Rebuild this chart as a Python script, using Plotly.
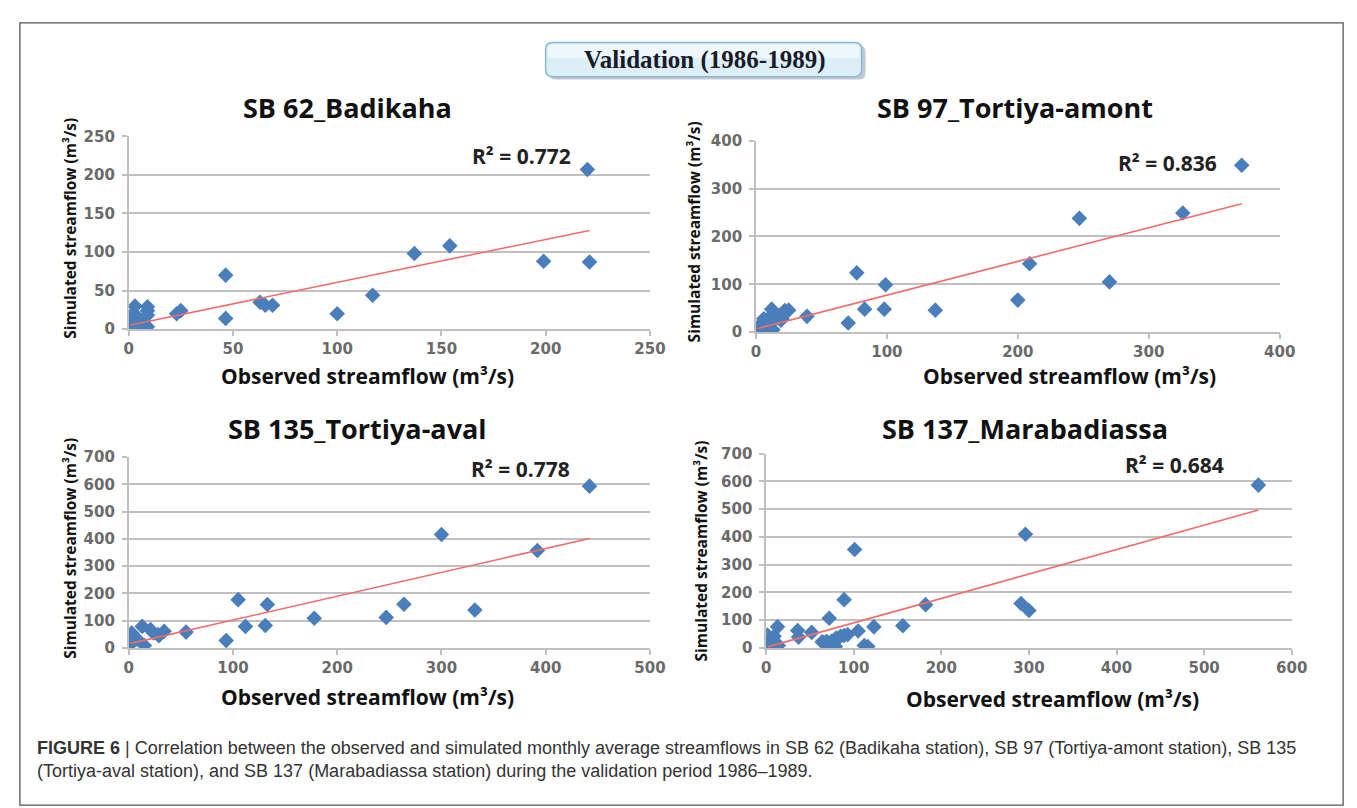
import plotly.graph_objects as go

W, H = 1357, 808

# ---------------- data ----------------
panel_titles = ["SB 62_Badikaha", "SB 97_Tortiya-amont", "SB 135_Tortiya-aval", "SB 137_Marabadiassa"]
r2_labels = ["R² = 0.772", "R² = 0.836", "R² = 0.778", "R² = 0.684"]

sb62_obs = [220, 221, 199, 154, 137, 117, 100, 46.5, 46.5, 63, 65.5, 69, 23, 25,
            1, 2, 0.5, 1.5, 3, 4, 5, 6, 9, 9, 9, 9, 3, 2, 7]
sb62_sim = [207, 87, 88, 108, 98, 44, 20, 70, 14, 35, 31, 31, 20, 24,
            17, 14, 2, 0, 30, 8, 12, 5, 29, 24, 18, 3, 19, 6, 10]
sb62_trend_obs = [1, 221]
sb62_trend_sim = [5.5, 128]

sb97_obs = [371, 326, 247, 209, 270, 200, 137, 99, 98, 83, 77, 70.5, 39, 25,
            2, 3, 5, 6, 8, 10, 12, 14, 16, 18, 20, 22, 4, 7, 13, 10, 1, 19]
sb97_sim = [349, 249, 238, 143, 105, 67, 46, 99, 48, 48, 124, 19, 33, 46,
            5, 12, 20, 28, 25, 15, 48, 40, 30, 35, 28, 45, 2, 8, 5, 22, 0, 25]
sb97_trend_obs = [1.3, 371]
sb97_trend_sim = [7.5, 268.5]

sb135_obs = [442, 300, 392, 332, 264, 247, 178, 133, 131, 105, 112, 93.5, 55, 34,
             13, 21, 24, 29, 2.4, 0.8, 15, 5.5, 8, 0, 2.4, 3, 6, 28]
sb135_sim = [593, 416, 357, 139, 160, 112, 109, 159, 82, 177, 79, 27, 58, 61,
             79, 67, 55, 45, 49, 19, 9, 37, 33, 7, 27, 55, 31, 49]
sb135_trend_obs = [2, 442]
sb135_trend_sim = [16.7, 401]

sb137_obs = [562, 296, 291, 300, 182, 156, 123, 105, 101, 89, 72, 89, 93, 112, 116, 79,
             65, 70, 75, 80, 85, 52, 36, 37, 13, 1.5, 6, 11, 2.5, 14, 9, 64, 69, 4]
sb137_sim = [587, 410, 160, 135, 156, 80, 76, 61, 355, 174, 107, 45, 48, 9, 5, 5,
             19, 16, 25, 36, 42, 56, 63, 39, 76, 46, 30, 19, 5, 9, 42, 22, 24, 26]
sb137_trend_obs = [2.5, 562]
sb137_trend_sim = [4.7, 497]

x_ranges = [[0, 250], [0, 400], [0, 500], [0, 600]]
y_ranges = [[0, 250], [0, 400], [0, 700], [0, 700]]
x_dticks = [50, 100, 100, 100]
y_dticks = [50, 100, 100, 100]
r2_pos = [(188.5, 224), (314, 354), (376, 656), (466, 659)]

header_text = "Validation (1986-1989)"
x_title = "Observed streamflow (m³/s)"
y_title = "Simulated streamflow (m³/s)"
caption_line1 = ("<b>FIGURE 6</b> | Correlation between the observed and simulated monthly average "
                 "streamflows in SB 62 (Badikaha station), SB 97 (Tortiya-amont station), SB 135")
caption_line2 = ("(Tortiya-aval station), and SB 137 (Marabadiassa station) during the validation "
                 "period 1986–1989.")

# ---------------- layout helpers (pixel -> paper) ----------------
def px(x):
    return x / W


def py(y):
    return 1 - y / H


boxes = [
    (117.5, 647, 122, 319.3),
    (754.6, 1286.6, 126.7, 322.3),
    (117.5, 647, 450, 645.3),
    (765, 1298.8, 446.7, 645.3),
]
title_px = [(340, 93), (1018, 93), (350, 421), (1028, 421)]
xtitle_px = [(360, 367), (1073, 367), (360, 696), (1056, 698)]
ytitle_px = [(58.5, 216), (692, 220), (57.7, 543), (698.5, 546)]

MARKER = "#4A7EBB"
TREND = "#F26B6B"
GRID = "#C0C0C0"
TICKC = "#6A6A6A"

series = [
    (sb62_obs, sb62_sim, sb62_trend_obs, sb62_trend_sim),
    (sb97_obs, sb97_sim, sb97_trend_obs, sb97_trend_sim),
    (sb135_obs, sb135_sim, sb135_trend_obs, sb135_trend_sim),
    (sb137_obs, sb137_sim, sb137_trend_obs, sb137_trend_sim),
]

fig = go.Figure()
annotations = []
layout_axes = {}
TICKFONT = dict(family="DejaVu Sans", size=15, color=TICKC, weight="bold")

for i, (obs, sim, tx, ty) in enumerate(series):
    n = "" if i == 0 else str(i + 1)
    xa, ya = "x" + n, "y" + n
    fig.add_trace(go.Scatter(
        x=obs, y=sim, mode="markers", xaxis=xa, yaxis=ya,
        marker=dict(symbol="diamond", size=12, color=MARKER, line=dict(width=0)),
        showlegend=False, hoverinfo="x+y"))
    fig.add_trace(go.Scatter(
        x=tx, y=ty, mode="lines", xaxis=xa, yaxis=ya,
        line=dict(color=TREND, width=1.6), showlegend=False, hoverinfo="skip"))

    l, r, t, b = boxes[i]
    layout_axes["xaxis" + n] = dict(
        domain=[px(l), px(r)], range=x_ranges[i], dtick=x_dticks[i], tick0=0,
        anchor=ya, showgrid=False, zeroline=False,
        showline=True, linecolor=GRID, linewidth=2,
        ticks="outside", ticklen=5, tickcolor=GRID, tickwidth=1.5,
        ticklabelstandoff=0,
        tickfont=TICKFONT, fixedrange=True)
    layout_axes["yaxis" + n] = dict(
        domain=[py(b), py(t)], range=y_ranges[i], dtick=y_dticks[i], tick0=0,
        anchor=xa, showgrid=True, gridcolor=GRID, gridwidth=2, zeroline=False,
        showline=True, linecolor=GRID, linewidth=1.5,
        ticks="outside", ticklen=5, tickcolor=GRID, tickwidth=1.5,
        ticklabelstandoff=4,
        tickfont=TICKFONT, fixedrange=True)

    annotations.append(dict(
        text=panel_titles[i], x=px(title_px[i][0]), y=py(title_px[i][1]),
        xref="paper", yref="paper", xanchor="center", yanchor="middle", showarrow=False,
        font=dict(family="Open Sans", size=27, color="#111111", weight="bold")))
    annotations.append(dict(
        text=x_title, x=px(xtitle_px[i][0]), y=py(xtitle_px[i][1]),
        xref="paper", yref="paper", xanchor="center", yanchor="middle", showarrow=False,
        font=dict(family="Open Sans", size=21, color="#111111", weight="bold")))
    annotations.append(dict(
        text=y_title, x=px(ytitle_px[i][0]), y=py(ytitle_px[i][1]), textangle=-90,
        xref="paper", yref="paper", xanchor="center", yanchor="middle", showarrow=False,
        font=dict(family="Open Sans", size=15.5, color="#111111", weight="bold")))
    annotations.append(dict(
        text=r2_labels[i], x=r2_pos[i][0], y=r2_pos[i][1], xref=xa, yref=ya,
        xanchor="center", yanchor="middle", showarrow=False,
        font=dict(family="Open Sans", size=21, color="#222222", weight="bold")))

annotations.append(dict(
    text=header_text, x=px(702), y=py(44), xref="paper", yref="paper",
    xanchor="center", yanchor="middle", showarrow=False,
    font=dict(family="Liberation Serif", size=25, color="#1a1a2a", weight="bold")))

CAPFONT = dict(family="Liberation Sans", size=18, color="#333333")
annotations.append(dict(
    text=caption_line1, x=px(22), y=py(748), xref="paper", yref="paper",
    xanchor="left", yanchor="middle", showarrow=False, align="left", font=CAPFONT))
annotations.append(dict(
    text=caption_line2, x=px(22), y=py(771), xref="paper", yref="paper",
    xanchor="left", yanchor="middle", showarrow=False, align="left", font=CAPFONT))


def rounded_rect(x0, y0, x1, y1, r):
    rx, ry = r / W, r / H
    X0, X1 = px(x0), px(x1)
    Y0, Y1 = py(y0), py(y1)
    return (f"M {X0+rx},{Y0} L {X1-rx},{Y0} Q {X1},{Y0} {X1},{Y0-ry} "
            f"L {X1},{Y1+ry} Q {X1},{Y1} {X1-rx},{Y1} L {X0+rx},{Y1} "
            f"Q {X0},{Y1} {X0},{Y1+ry} L {X0},{Y0-ry} Q {X0},{Y0} {X0+rx},{Y0} Z")


shapes = [
    dict(type="rect", xref="paper", yref="paper", x0=px(7), x1=px(1351), y0=py(6), y1=py(806),
         line=dict(color="#555555", width=1.3), fillcolor="rgba(0,0,0,0)", layer="below"),
    dict(type="path", xref="paper", yref="paper", path=rounded_rect(544, 29, 866, 64, 7),
         line=dict(width=0), fillcolor="rgba(120,140,150,0.45)"),
    dict(type="path", xref="paper", yref="paper", path=rounded_rect(541, 26, 862, 61, 7),
         line=dict(color="#86B9CE", width=1.5), fillcolor="#DCEFF6"),
    dict(type="path", xref="paper", yref="paper", path=rounded_rect(543, 28, 860, 42, 5),
         line=dict(width=0), fillcolor="rgba(255,255,255,0.5)"),
]

fig.update_layout(
    width=W, height=H,
    margin=dict(l=0, r=0, t=0, b=0),
    paper_bgcolor="white", plot_bgcolor="white",
    showlegend=False,
    annotations=annotations,
    shapes=shapes,
    **layout_axes,
)

fig.write_html("out.html")
